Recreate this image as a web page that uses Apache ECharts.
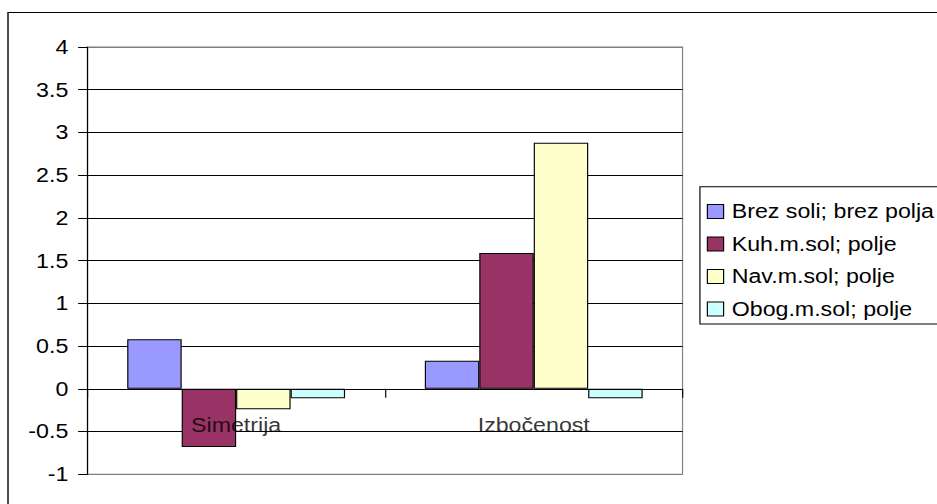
<!DOCTYPE html>
<html>
<head>
<meta charset="utf-8">
<script src="https://cdn.jsdelivr.net/npm/echarts@6/dist/echarts.min.js"></script>
<style>
  html, body { margin: 0; padding: 0; background: #fff; overflow: hidden; }
  /* The chart is laid out at a narrower width and widened horizontally,
     giving the broad, stretched lettering of the original sheet export. */
  #chart { width: 808px; height: 504px; transform: scaleX(1.16); transform-origin: 0 0; }
</style>
</head>
<body>
<div id="chart"></div>
<script>
const categories = ['Simetrija', 'Izbočenost'];
const seriesNames = ['Brez soli; brez polja', 'Kuh.m.sol; polje', 'Nav.m.sol; polje', 'Obog.m.sol; polje'];
const brezSoli = [0.58, 0.33];
const kuhSol = [-0.68, 1.59];
const navSol = [-0.24, 2.88];
const obogSol = [-0.11, -0.11];
const colors = ['#9999FF', '#993366', '#FFFFCC', '#CCFFFF'];

const FONT = "'Liberation Sans', Arial, sans-serif";
const chart = echarts.init(document.getElementById('chart'), null, { renderer: 'svg' });

const values = [brezSoli, kuhSol, navSol, obogSol];
const series = seriesNames.map((name, i) => ({
  name,
  type: 'bar',
  data: values[i],
  barGap: '0%',
  barCategoryGap: '26.8%',
  itemStyle: { color: colors[i], borderColor: '#000', borderWidth: 1 }
}));

// category names sit just under the zero line, drawn over the bars
series.push({
  name: 'categoryNames',
  type: 'scatter',
  data: categories.map(c => [c, 0]),
  symbolSize: 0,
  silent: true,
  z: 10,
  label: {
    show: true,
    position: 'bottom',
    distance: 26,
    fontFamily: FONT,
    fontSize: 20,
    lineHeight: 20,
    color: '#000',
    formatter: p => p.value[0]
  }
});

// split line colours: plot frame grey at -1 and 4, black between
const splitColors = ['#808080', '#000', '#000', '#000', '#000', '#000', '#000', '#000', '#000', '#000', '#808080'];

chart.setOption({
  animation: false,
  backgroundColor: '#fff',
  grid: {
    left: 75.3, right: 219.6, top: 47, bottom: 29.7,
    outerBoundsMode: 'none',
    containLabel: false,
    show: true, borderColor: '#808080', borderWidth: 1, backgroundColor: 'transparent'
  },
  legend: {
    orient: 'vertical',
    left: 604.3,
    top: 196.5,
    itemWidth: 14,
    itemHeight: 14,
    itemGap: 12.5,
    icon: 'rect',
    itemStyle: { borderColor: '#000', borderWidth: 1 },
    textStyle: { fontFamily: FONT, fontSize: 20, color: '#000', lineHeight: 20, padding: [0, 0, 0, 2] },
    data: seriesNames
  },
  xAxis: {
    type: 'category',
    data: categories,
    z: 10,
    axisLine: { onZero: true, lineStyle: { color: '#000', width: 1 } },
    axisTick: { show: true, alignWithLabel: false, length: 9, lineStyle: { color: '#000' } },
    axisLabel: { show: false },
    splitLine: { show: false }
  },
  yAxis: {
    type: 'value',
    min: -1,
    max: 4,
    interval: 0.5,
    axisLine: { show: true, onZero: false, lineStyle: { color: '#000', width: 1 } },
    axisTick: { show: true, length: 8, lineStyle: { color: '#000' } },
    axisLabel: { fontFamily: FONT, fontSize: 20, color: '#000', margin: 16.4 },
    splitLine: { show: true, lineStyle: { color: splitColors, width: 1 } }
  },
  graphic: [
    {
      type: 'rect',
      shape: { x: 6.9, y: 12.5, width: 900, height: 600 },
      style: { fill: 'none', stroke: '#000', lineWidth: 1.2 },
      silent: true
    },
    {
      type: 'rect',
      shape: { x: 603.4, y: 186.7, width: 300, height: 137.3 },
      style: { fill: 'none', stroke: '#000', lineWidth: 1 },
      silent: true
    }
  ],
  series
});
</script>
</body>
</html>
